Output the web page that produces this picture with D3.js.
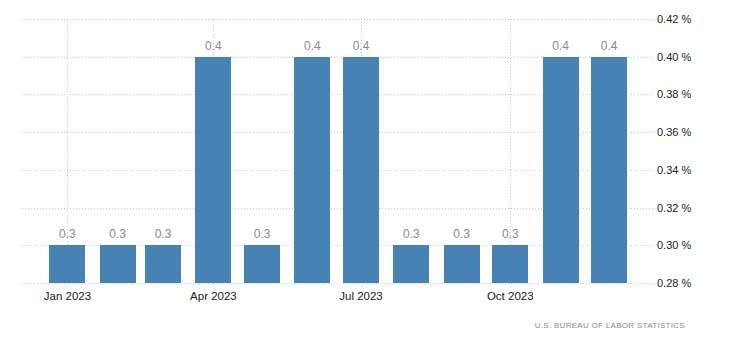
<!doctype html>
<html lang="en">
<head>
  <meta charset="utf-8">
  <title>Core inflation rate MoM</title>
  <script src="https://cdnjs.cloudflare.com/ajax/libs/d3/7.8.5/d3.min.js"></script>
  <style>
    body { margin: 0; background: #fff; }
    text { font-family: "Liberation Sans", Arial, sans-serif; }
  </style>
</head>
<body>
  <svg width="730" height="351" id="svg"></svg>
<script>

  var months = ['2023-01','2023-02','2023-03','2023-04','2023-05','2023-06',
                '2023-07','2023-08','2023-09','2023-10','2023-11','2023-12'];
  var values = [0.3, 0.3, 0.3, 0.4, 0.3, 0.4, 0.4, 0.3, 0.3, 0.3, 0.4, 0.4];
  var yTicks = [0.28, 0.30, 0.32, 0.34, 0.36, 0.38, 0.40, 0.42];
  var xTickMonths = ['2023-01','2023-04','2023-07','2023-10'];
  var source = 'U.S. BUREAU OF LABOR STATISTICS';

  var parse = d3.timeParse('%Y-%m');
  var dates = months.map(parse);

  var svg = d3.select('#svg');
  var plotLeft = 22, plotRight = 653, plotTop = 19, plotBottom = 283;

  var x = d3.scaleTime()
    .domain([d3.timeDay.offset(dates[0], -28), d3.timeDay.offset(dates[dates.length - 1], 27)])
    .range([plotLeft, plotRight]);

  var y = d3.scaleLinear()
    .domain([0.28, 0.42])
    .range([plotBottom, plotTop]);

  var grid = '#c8c8c8';

  // horizontal grid
  svg.selectAll('.hgrid')
    .data(yTicks)
    .enter()
    .append('line')
    .attr('x1', plotLeft).attr('x2', plotRight)
    .attr('y1', function(d) { return Math.round(y(d)) + 0.5; })
    .attr('y2', function(d) { return Math.round(y(d)) + 0.5; })
    .attr('stroke', grid)
    .attr('stroke-dasharray', '1,2');

  // vertical grid
  svg.selectAll('.vgrid')
    .data(xTickMonths.map(parse))
    .enter()
    .append('line')
    .attr('x1', function(d) { return Math.round(x(d)) + 0.5; })
    .attr('x2', function(d) { return Math.round(x(d)) + 0.5; })
    .attr('y1', plotTop).attr('y2', plotBottom + 5)
    .attr('stroke', grid)
    .attr('stroke-dasharray', '1,2');

  // bars
  var barW = 36;
  svg.selectAll('.bar')
    .data(values)
    .enter()
    .append('rect')
    .attr('x', function(d, i) { return Math.round(x(dates[i]) - barW / 2); })
    .attr('y', function(d) { return Math.round(y(d)); })
    .attr('width', barW)
    .attr('height', function(d) { return Math.round(y(0.28)) - Math.round(y(d)); })
    .attr('fill', '#4682b4');

  // value labels
  svg.selectAll('.val')
    .data(values)
    .enter()
    .append('text')
    .attr('x', function(d, i) { return x(dates[i]); })
    .attr('y', function(d) { return y(d) - 7; })
    .attr('text-anchor', 'middle')
    .attr('font-size', '12px')
    .attr('fill', '#8a8a8a')
    .text(function(d) { return d.toFixed(1); });

  // x axis labels
  var fmt = d3.timeFormat('%b %Y');
  svg.selectAll('.xlab')
    .data(xTickMonths.map(parse))
    .enter()
    .append('text')
    .attr('x', function(d) { return x(d); })
    .attr('y', 300)
    .attr('text-anchor', 'middle')
    .attr('font-size', '11.5px')
    .attr('fill', '#1a1a1a')
    .text(function(d) { return fmt(d); });

  // y axis labels
  svg.selectAll('.ylab')
    .data(yTicks)
    .enter()
    .append('text')
    .attr('x', 657)
    .attr('y', function(d) { return y(d) + 4; })
    .attr('font-size', '11px')
    .attr('fill', '#1a1a1a')
    .text(function(d) { return d.toFixed(2) + ' %'; });

  // source
  svg.append('text')
    .attr('x', 685)
    .attr('y', 328)
    .attr('text-anchor', 'end')
    .attr('font-size', '8px')
    .attr('letter-spacing', '0.3px')
    .attr('fill', '#8a8a8a')
    .text(source);

</script>
</body>
</html>
